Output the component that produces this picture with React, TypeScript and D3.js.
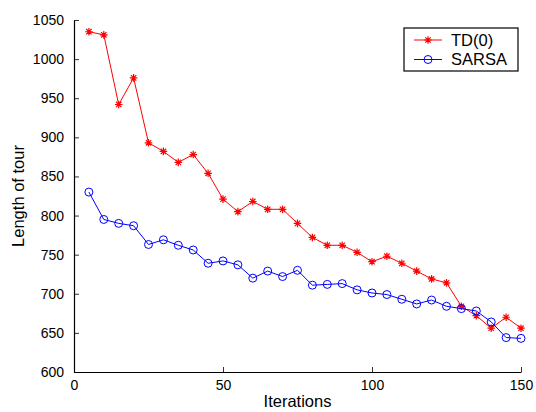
import { useRef, useEffect } from 'react'
import * as d3 from 'd3'

// Iterations sampled every 5 steps
const iterations = [5, 10, 15, 20, 25, 30, 35, 40, 45, 50, 55, 60, 65, 70, 75, 80, 85, 90, 95, 100, 105, 110, 115, 120, 125, 130, 135, 140, 145, 150]

const td0 = [1035, 1031, 942, 976, 893, 882, 868, 878, 854, 821, 805, 818, 808, 808, 790, 772, 762, 762, 753, 741, 748, 739, 729, 719, 714, 684, 672, 656, 670, 656]
const sarsa = [830, 795, 790, 787, 763, 769, 762, 756, 739, 742, 737, 720, 729, 722, 730, 711, 712, 713, 705, 701, 699, 693, 687, 692, 684, 681, 678, 664, 644, 643]

const xTicks = [0, 50, 100, 150]
const yTicks = [600, 650, 700, 750, 800, 850, 900, 950, 1000, 1050]

const series = [
  { name: 'TD(0)', values: td0, color: '#ff0000', marker: 'star' },
  { name: 'SARSA', values: sarsa, color: '#0000ff', marker: 'circle' },
]

const FONT = '"Liberation Sans", Arial, Helvetica, sans-serif'

function App() {
  const svgRef = useRef<SVGSVGElement | null>(null)
  const width = 536
  const height = 412

  useEffect(() => {
    if (!svgRef.current) return
    const svg = d3.select(svgRef.current)
    svg.selectAll('*').remove()

    const margin = { top: 20, right: 15, bottom: 40, left: 74 }
    const innerW = width - margin.left - margin.right
    const innerH = height - margin.top - margin.bottom

    const x = d3.scaleLinear().domain([0, 150]).range([0, innerW])
    const y = d3.scaleLinear().domain([600, 1050]).range([innerH, 0])

    const g = svg.append('g').attr('transform', `translate(${margin.left},${margin.top})`)

    // Axes (ticks pointing inward, like MATLAB)
    const xAxis = g.append('g')
      .attr('transform', `translate(0,${innerH})`)
      .call(d3.axisBottom(x).tickValues(xTicks).tickFormat(d3.format('d')).tickSizeInner(-5).tickSizeOuter(0).tickPadding(8))
    const yAxis = g.append('g')
      .call(d3.axisLeft(y).tickValues(yTicks).tickFormat(d3.format('d')).tickSizeInner(-5).tickSizeOuter(0).tickPadding(10))

    for (const ax of [xAxis, yAxis]) {
      ax.select('.domain').attr('stroke', '#000').attr('stroke-width', 1.2)
      ax.selectAll('.tick line').attr('stroke', '#000').attr('stroke-width', 0.8)
      ax.selectAll('.tick text')
        .attr('fill', '#000')
        .style('font-family', FONT)
        .style('font-size', '14px')
    }

    // Axis labels
    svg.append('text')
      .attr('x', margin.left + x(75))
      .attr('y', 407)
      .attr('text-anchor', 'middle')
      .style('font-family', FONT)
      .style('font-size', '16.5px')
      .text('Iterations')

    svg.append('text')
      .attr('transform', `translate(24,${margin.top + innerH / 2}) rotate(-90)`)
      .attr('text-anchor', 'middle')
      .style('font-family', FONT)
      .style('font-size', '16.5px')
      .text('Length of tour')

    const line = d3.line<number>()
      .x((_, i) => x(iterations[i]))
      .y(d => y(d))

    const starPath = (r: number) => {
      const d = r * Math.SQRT1_2
      return `M${-r},0L${r},0M0,${-r}L0,${r}M${-d},${-d}L${d},${d}M${-d},${d}L${d},${-d}`
    }

    const drawMarker = (sel: d3.Selection<SVGGElement, unknown, null, undefined>, kind: string, color: string) => {
      if (kind === 'star') {
        sel.append('path').attr('d', starPath(3.8)).attr('stroke', color).attr('stroke-width', 1.2).attr('fill', 'none')
      } else {
        sel.append('circle').attr('r', 4).attr('stroke', color).attr('stroke-width', 1).attr('fill', 'none')
      }
    }

    series.forEach(s => {
      g.append('path')
        .datum(s.values)
        .attr('d', line)
        .attr('fill', 'none')
        .attr('stroke', s.color)
        .attr('stroke-width', 1)

      s.values.forEach((v, i) => {
        const m = g.append('g').attr('transform', `translate(${x(iterations[i])},${y(v)})`)
        drawMarker(m, s.marker, s.color)
      })
    })

    // Legend
    const legend = svg.append('g').attr('transform', 'translate(404,28)')
    legend.append('rect')
      .attr('width', 114)
      .attr('height', 43)
      .attr('fill', '#fff')
      .attr('stroke', '#000')
      .attr('stroke-width', 1.2)

    series.forEach((s, i) => {
      const cy = 12 + i * 19.5
      legend.append('line')
        .attr('x1', 10).attr('x2', 38)
        .attr('y1', cy).attr('y2', cy)
        .attr('stroke', s.color)
        .attr('stroke-width', 1)
      const m = legend.append('g').attr('transform', `translate(24,${cy})`)
      drawMarker(m, s.marker, s.color)
      legend.append('text')
        .attr('x', 47)
        .attr('y', cy)
        .attr('dy', '0.36em')
        .style('font-family', FONT)
        .style('font-size', '16.5px')
        .text(s.name)
    })
  }, [])

  return (
    <svg
      ref={svgRef}
      width={width}
      height={height}
      style={{ position: 'absolute', left: 0, top: 0, background: '#fff' }}
    />
  )
}

export default App
